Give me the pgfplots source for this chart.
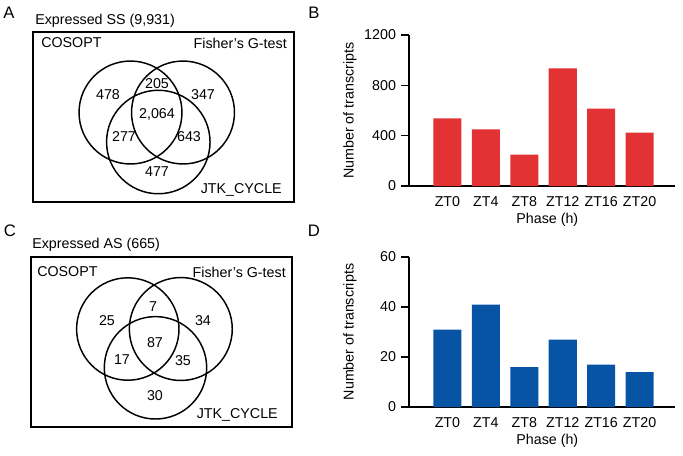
\documentclass[border=0pt]{standalone}
\usepackage{pgfplots}
\pgfplotsset{compat=1.18}
\usepackage{fontspec}
\setmainfont{Liberation Sans}
\definecolor{barred}{RGB}{226,50,52}
\definecolor{barblue}{RGB}{8,84,164}
\pgfplotsset{phasebar/.style={
  scale only axis, width=199.5pt, height=112.5pt,
  anchor=south west,
  axis x line=bottom, axis y line=left,
  axis line style={-, line width=1pt},
  xmin=-1, xmax=5.92, ymin=0,
  xtick={0,1,2,3,4,5},
  xticklabels={ZT0,ZT4,ZT8,ZT12,ZT16,ZT20},
  major x tick style={draw=none},
  major y tick style={line width=1pt, black},
  tick align=outside, major tick length=6pt,
  /pgf/number format/assume math mode=true,
  /pgf/number format/1000 sep={},
  xlabel={Phase (h)}, ylabel={Number of transcripts},
  xlabel style={at={(axis description cs:0.52,-0.225)}, anchor=center},
  ylabel style={at={(axis description cs:-0.222,0.5)}, anchor=center},
  xticklabel style={anchor=center, yshift=-6pt},
}}
\begin{document}
\fontsize{10.7}{12.8}\selectfont
\begin{tikzpicture}
\begin{scope}[x=0.75pt,y=-0.75pt]
\path[use as bounding box] (0,0) rectangle (683,455);
\coordinate (Bo) at (409,186);
\coordinate (Do) at (409,407);
% Panel A
\node[font=\fontsize{12.5}{15}\selectfont] at (9,12.5) {A};
\node[anchor=west, inner sep=0] at (35,21) {Expressed SS (9,931)};
\draw[line width=1.2pt] (33,32) rectangle (294,202);
\node[anchor=west, inner sep=0] at (41,43) {COSOPT};
\node[anchor=east, inner sep=0] at (287,43) {Fisher's G-test};
\node[anchor=east, inner sep=0] at (282,190) {JTK\_CYCLE};
\draw[line width=1.1pt] (130.5,112.5) circle[radius=38.6pt];
\draw[line width=1.1pt] (183,112.5) circle[radius=38.6pt];
\draw[line width=1.1pt] (158.3,142) circle[radius=38.8pt];
\node at (108,95) {478};
\node at (157,84) {205};
\node at (203,95) {347};
\node at (157,114) {2,064};
\node at (124,137) {277};
\node at (189,137) {643};
\node at (157,172) {477};
% Panel C
\node[font=\fontsize{12.5}{15}\selectfont] at (10,231) {C};
\node[anchor=west, inner sep=0] at (32,245) {Expressed AS (665)};
\draw[line width=1.2pt] (31,257) rectangle (292,427);
\node[anchor=west, inner sep=0] at (37,272) {COSOPT};
\node[anchor=east, inner sep=0] at (286,272) {Fisher's G-test};
\node[anchor=east, inner sep=0] at (278,415) {JTK\_CYCLE};
\draw[line width=1.1pt] (127.8,329) circle[radius=38.4pt];
\draw[line width=1.1pt] (180.8,329) circle[radius=38.6pt];
\draw[line width=1.1pt] (155.5,367.8) circle[radius=38.4pt];
\node at (107,321) {25};
\node at (153,307) {7};
\node at (203,321) {34};
\node at (155,343) {87};
\node at (122,360) {17};
\node at (183,361) {35};
\node at (155,396) {30};
% letters B, D
\node[font=\fontsize{12.5}{15}\selectfont] at (314,12.5) {B};
\node[font=\fontsize{12.5}{15}\selectfont] at (314,231) {D};
\end{scope}
% Panel B
\begin{axis}[phasebar, at={(Bo)}, ymax=1200, ytick={0,400,800,1200}, height=113.25pt]
\addplot[ybar, bar width=0.73, fill=barred, draw=none] coordinates {
(0,538) (1,450) (2,249) (3,935) (4,615) (5,424)};
\end{axis}
% Panel D
\begin{axis}[phasebar, at={(Do)}, ymax=60, ytick={0,20,40,60}, height=112.5pt]
\addplot[ybar, bar width=0.73, fill=barblue, draw=none] coordinates {
(0,31) (1,41) (2,16) (3,27) (4,17) (5,14)};
\end{axis}
\end{tikzpicture}
\end{document}
